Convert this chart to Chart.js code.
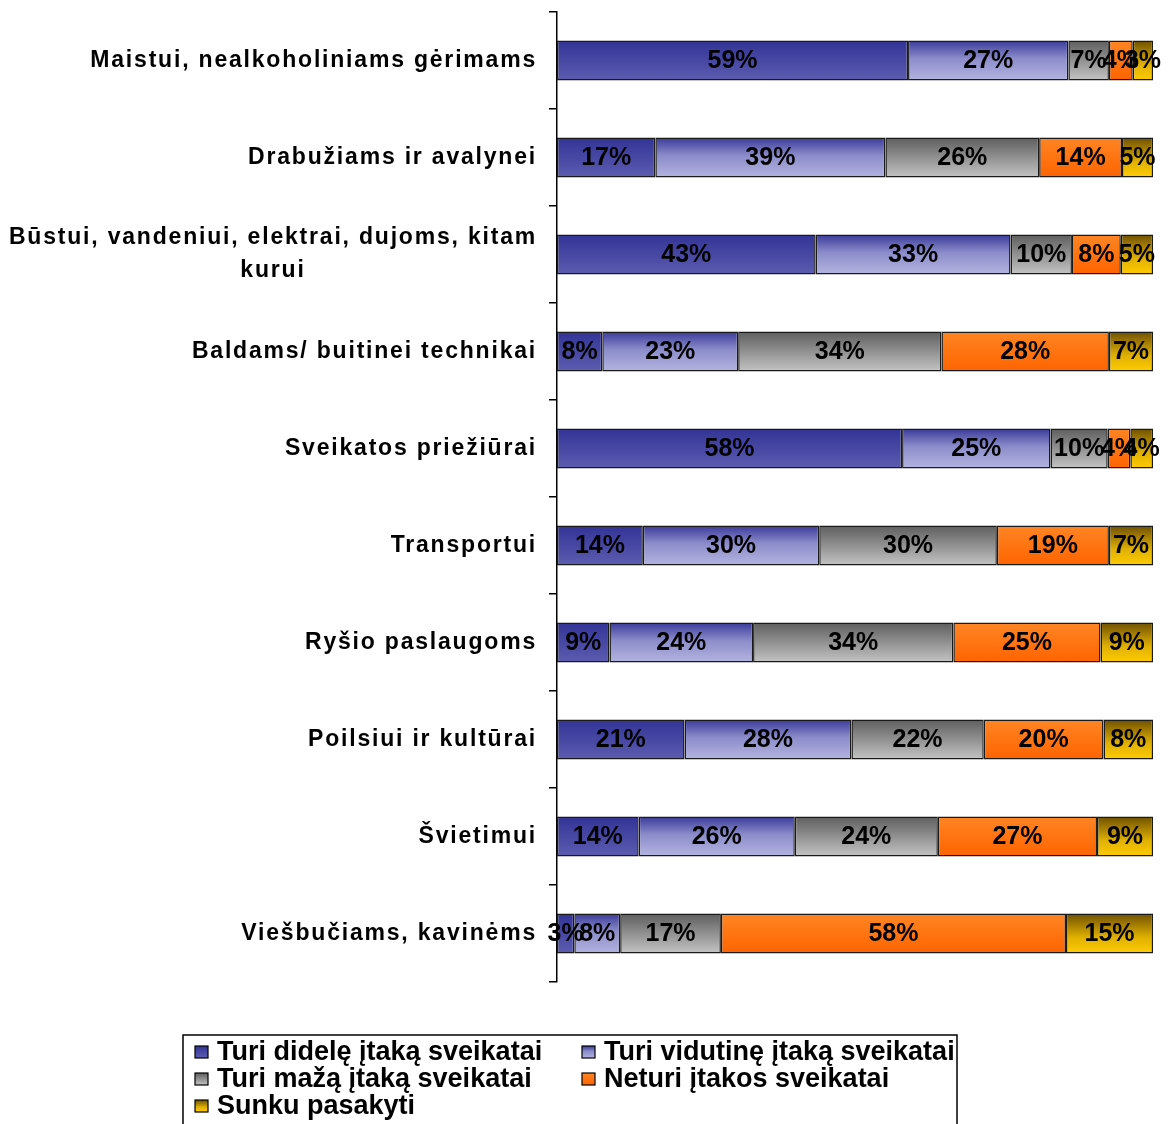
<!DOCTYPE html>
<html>
<head>
<meta charset="utf-8">
<script src="https://cdn.jsdelivr.net/npm/chart.js@4.4.1/dist/chart.umd.min.js"></script>
<style>
    html, body { margin: 0; padding: 0; background: #fff; }
    #wrap { width: 1176px; height: 1124px; position: relative; }
</style>
</head>
<body>
<div id="wrap"><canvas id="chart"></canvas></div>
<script>
const categories = [
    'Maistui, nealkoholiniams gėrimams',
    'Drabužiams ir avalynei',
    ['Būstui, vandeniui, elektrai, dujoms, kitam', 'kurui'],
    'Baldams/ buitinei technikai',
    'Sveikatos priežiūrai',
    'Transportui',
    'Ryšio paslaugoms',
    'Poilsiui ir kultūrai',
    'Švietimui',
    'Viešbučiams, kavinėms'
];
const seriesNames = [
    'Turi didelę įtaką sveikatai',
    'Turi vidutinę įtaką sveikatai',
    'Turi mažą įtaką sveikatai',
    'Neturi įtakos sveikatai',
    'Sunku pasakyti'
];
const didele   = [58.9, 16.5, 43.4,  7.6, 57.9, 14.4,  8.8, 21.4, 13.7,  2.9];
const vidutine = [26.9, 38.6, 32.7, 22.8, 24.9, 29.6, 24.1, 28.0, 26.2,  7.7];
const maza     = [ 6.8, 25.8, 10.3, 34.1,  9.6, 29.8, 33.6, 22.2, 24.0, 16.9];
const neturi   = [ 4.0, 13.9,  8.2, 28.1,  3.8, 18.8, 24.7, 20.1, 26.7, 57.9];
const sunku    = [ 3.4,  5.2,  5.4,  7.4,  3.8,  7.4,  8.8,  8.3,  9.4, 14.6];

const seriesStops = [
    [[0, '#333397'], [1, '#5c5cb0']],
    [[0, '#3a3a9a'], [0.45, '#8c8cca'], [1, '#b4b4e0']],
    [[0, '#5e5e5e'], [1, '#c4c4c4']],
    [[0, '#ff8524'], [1, '#ff6400']],
    [[0, '#6e5000'], [0.6, '#e0b000'], [1, '#ffcc00']]
];

const FONT = '"Liberation Sans", Arial, sans-serif';
const BAR_PCT = 0.41;

function makeGradient(ctx, stops, top, bottom) {
    const g = ctx.createLinearGradient(0, top, 0, bottom);
    stops.forEach(([p, c]) => g.addColorStop(p, c));
    return g;
}

function barFill(stops) {
    return (c) => {
        const chart = c.chart;
        if (!chart.chartArea || c.type !== 'data') return stops[stops.length - 1][1];
        const y = chart.scales.y;
        const half = (y.bottom - y.top) / categories.length * BAR_PCT / 2;
        const yc = y.getPixelForValue(c.dataIndex);
        return makeGradient(chart.ctx, stops, yc - half, yc + half);
    };
}

const overlayPlugin = {
    id: 'overlay',
    afterDraw(chart) {
        const ctx = chart.ctx;
        const yScale = chart.scales.y;
        ctx.save();
        ctx.fillStyle = '#000';
        ctx.textBaseline = 'middle';

        // category labels: lines centred on the widest line, block right-aligned
        ctx.font = 'bold 23px ' + FONT;
        ctx.letterSpacing = '1.8px';
        ctx.textAlign = 'center';
        const rightEdge = 537, lineH = 33;
        categories.forEach((lab, i) => {
            const lines = Array.isArray(lab) ? lab : [lab];
            const w = Math.max(...lines.map(l => ctx.measureText(l).width));
            const yc = yScale.getPixelForTick(i);
            lines.forEach((l, k) => {
                ctx.fillText(l, rightEdge - w / 2, yc + (k - (lines.length - 1) / 2) * lineH);
            });
        });
        ctx.letterSpacing = '0px';

        // value labels
        ctx.font = 'bold 25px ' + FONT;
        chart.data.datasets.forEach((ds, di) => {
            const meta = chart.getDatasetMeta(di);
            meta.data.forEach((el, i) => {
                ctx.fillText(Math.round(ds.data[i]) + '%', (el.x + el.base) / 2, el.y + 1);
            });
        });

        // legend
        ctx.lineWidth = 1.5;
        ctx.strokeStyle = '#000';
        ctx.strokeRect(183, 1035, 774, 100);
        const cols = [195, 582], rows = [1052, 1079, 1106];
        ctx.font = 'bold 27px ' + FONT;
        ctx.textAlign = 'left';
        chart.data.datasets.forEach((ds, di) => {
            const x = cols[di % 2], y = rows[Math.floor(di / 2)];
            ctx.fillStyle = makeGradient(ctx, seriesStops[di], y - 6, y + 6);
            ctx.fillRect(x, y - 6, 13, 12);
            ctx.lineWidth = 1.2;
            ctx.strokeStyle = '#000';
            ctx.strokeRect(x, y - 6, 13, 12);
            ctx.fillStyle = '#000';
            ctx.fillText(ds.label, x + 22, y + 1);
        });
        ctx.restore();
    }
};

const seriesData = [didele, vidutine, maza, neturi, sunku];

new Chart(document.getElementById('chart'), {
    type: 'bar',
    data: {
        labels: categories,
        datasets: seriesData.map((d, i) => ({
            label: seriesNames[i],
            data: d,
            backgroundColor: barFill(seriesStops[i]),
            borderColor: '#1a1a1a',
            borderWidth: 1.5,
            borderSkipped: false,
            barPercentage: BAR_PCT,
            categoryPercentage: 1,
            clip: false
        }))
    },
    options: {
        indexAxis: 'y',
        responsive: true,
        maintainAspectRatio: false,
        animation: false,
        layout: { padding: { top: 12, right: 23, bottom: 142, left: 0 } },
        plugins: { legend: { display: false }, tooltip: { enabled: false } },
        scales: {
            x: { stacked: true, min: 0, max: 100, display: false },
            y: {
                stacked: true,
                afterFit: (s) => { s.width = 557; },
                grid: { display: true, drawOnChartArea: false, drawTicks: true, tickLength: 8, color: '#000', lineWidth: 1.5, offset: true },
                border: { display: true, color: '#000', width: 1.5 },
                ticks: { display: false }
            }
        }
    },
    plugins: [overlayPlugin]
});
</script>
</body>
</html>
